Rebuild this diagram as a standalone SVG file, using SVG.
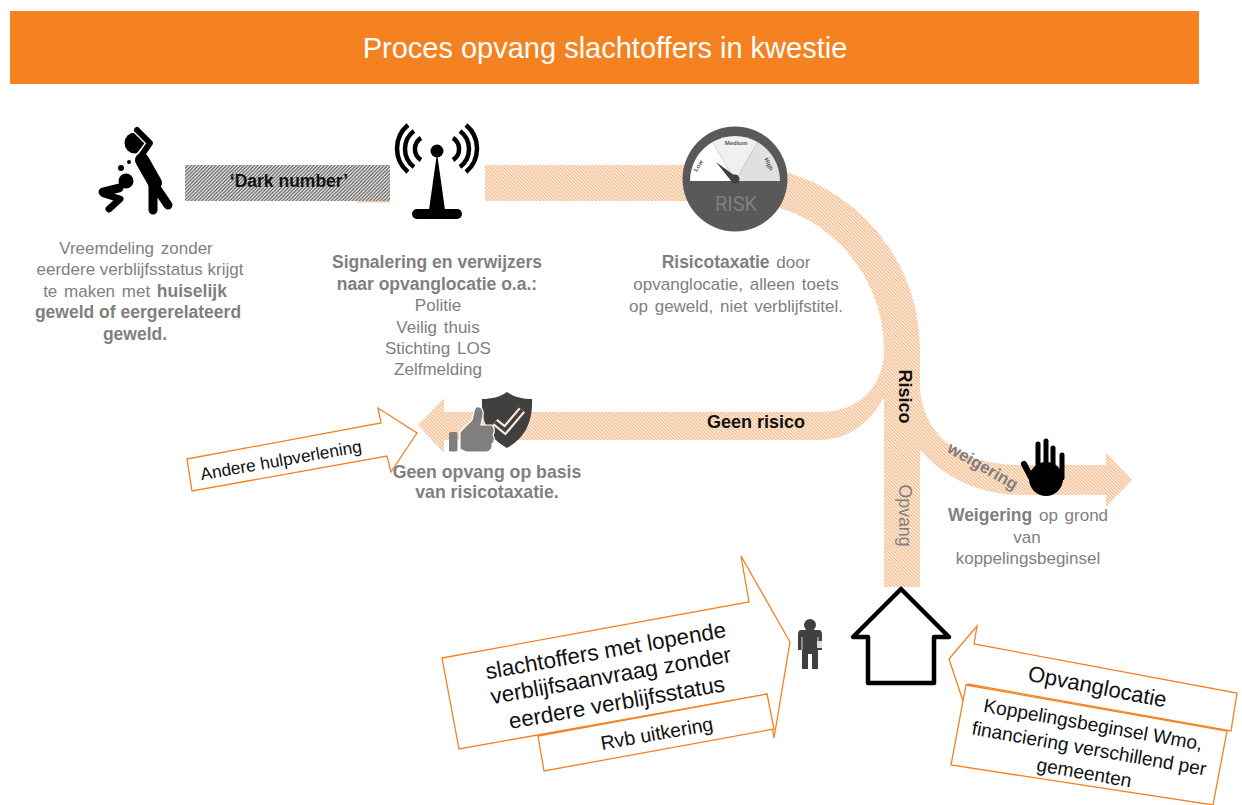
<svg xmlns="http://www.w3.org/2000/svg" width="1242" height="805" viewBox="0 0 1242 805">
<style>
text{font-family:"Liberation Sans",Arial,sans-serif}
.g{fill:#7f7f7f;font-size:17px;text-anchor:middle;word-spacing:2px}
.b{font-weight:bold;font-size:17.5px;word-spacing:0}
.k{fill:#111;text-anchor:middle}
.call{fill:#fff;stroke:#F58220;stroke-width:1.3;stroke-linejoin:miter}
.hatch{fill:url(#ho)}
</style>
<defs>
<pattern id="ho" width="3.5" height="3.5" patternUnits="userSpaceOnUse">
<rect width="3.5" height="3.5" fill="#fff"/>
<path d="M-1,-1L4.5,4.5M-1,2.5L1,4.5M2.5,-1L4.5,1" stroke="#F9AE74" stroke-width="1.25"/>
</pattern>
<pattern id="hd" width="3.5" height="3.5" patternUnits="userSpaceOnUse">
<rect width="3.5" height="3.5" fill="#fff"/>
<path d="M-1,4.5L4.5,-1M-1,1L1,-1M2.5,4.5L4.5,2.5" stroke="#555" stroke-width="1.3"/>
</pattern>
</defs>
<rect width="1242" height="805" fill="#fff"/>
<g id="title">
<rect x="10" y="11" width="1189" height="73" fill="#F58220"/>
<text x="605" y="58" font-size="29" fill="#fff" text-anchor="middle">Proces opvang slachtoffers in kwestie</text>
</g>
<g id="connectors">
<rect x="185" y="165" width="205" height="36" fill="url(#hd)"/>
<rect x="357" y="201" width="33" height="1.5" fill="#F9C9A0"/>
<path class="hatch" d="M485,165L735,165A185,185 0 0 1 920,350L920,587L884,587L884,350A149,149 0 0 0 735,201L485,201Z"/>
<path class="hatch" d="M884,350C884,385 860,412 820,412L444,412L444,398L418,425L444,453L444,440L820,440C850,440 872,420 884,397Z"/>
<path class="hatch" d="M920,390C925,440 965,465 1020,465L1106,465L1106,452L1132,480L1106,507L1106,495L1020,495C985,495 945,480 920,450Z"/>
</g>
<g id="node-victim" fill="#000" stroke="#000">
<circle cx="135" cy="143" r="10.5" stroke="none"/>
<path d="M137,130L150,143L140,156" fill="none" stroke="#fff" stroke-width="8.5" stroke-linecap="round" stroke-linejoin="round"/>
<path d="M137,130L150,143L141,156" fill="none" stroke-width="6" stroke-linecap="round" stroke-linejoin="round"/>
<path d="M142,160L155,183" fill="none" stroke-width="14" stroke-linecap="round"/>
<path d="M153,183L153,210M155,186L168,205" fill="none" stroke-width="9" stroke-linecap="round"/>
<circle cx="126" cy="181" r="7.5" stroke="none"/>
<path d="M103,192L119,188" fill="none" stroke-width="9" stroke-linecap="round"/>
<path d="M104,194L120,199L109,209" fill="none" stroke-width="7" stroke-linecap="round" stroke-linejoin="round"/>
<circle cx="121" cy="168" r="3" stroke="none"/>
<circle cx="129" cy="162" r="2" stroke="none"/>
</g>
<g id="node-signal">
<circle cx="437" cy="151" r="6.5"/>
<path d="M437,153L429,210L445,210Z"/>
<rect x="412" y="209" width="50" height="10" rx="5"/>
<path d="M408,125A30.6,30.6 0 0 0 408,172M414,131A22.5,22.5 0 0 0 414,167M421,138A13,13 0 0 0 421,160M466,125A30.6,30.6 0 0 1 466,172M460,131A22.5,22.5 0 0 1 460,167M453,138A13,13 0 0 1 453,160" fill="none" stroke="#000" stroke-width="4.5"/>
</g>
<g id="node-gauge">
<circle cx="735" cy="179" r="52.5" fill="#595959"/>
<path d="M690,181A45,45 0 0 1 712.5,142L735,181Z" fill="#fff"/>
<path d="M712.5,142A45,45 0 0 1 757.5,142L735,181Z" fill="#f0f0f0"/>
<path d="M757.5,142A45,45 0 0 1 780,181L735,181Z" fill="#e0e0e0"/>
<path d="M716,162L738,178L732,182Z" fill="#404040"/>
<circle cx="735" cy="179" r="4.5" fill="#404040"/>
<text x="736" y="211" font-size="20" fill="#7f7f7f" text-anchor="middle" style="font-family:Roboto,sans-serif">RISK</text>
<text x="736" y="145" font-size="6" fill="#595959" font-weight="bold" text-anchor="middle">Medium</text>
<text transform="translate(700,167) rotate(-58)" font-size="6" fill="#595959" font-weight="bold" text-anchor="middle">Low</text>
<text transform="translate(767,165) rotate(65)" font-size="6" fill="#595959" font-weight="bold" text-anchor="middle">High</text>
</g>
<g id="node-thumb-shield">
<path d="M507,392C514,397 523,399 532,399C533,420 526,438 507,448C488,438 481,420 482,399C491,399 500,397 507,392Z" fill="#404040"/>
<path d="M495,422L505,430L522,410" fill="none" stroke="#fbe8d8" stroke-width="8"/>
<path d="M495,422L505,430L522,410" fill="none" stroke="#404040" stroke-width="3.5"/>
<rect x="449" y="432" width="8.5" height="19.5" rx="1.5" fill="#7f7f7f"/>
<path d="M460,432L472,420C474,414 473,410 476,407C481,405 484,410 483,416L481,425L491,425C495,426 495,432 493,435C495,438 495,442 492,444C493,448 490,452 486,452L466,452L460,449Z" fill="#7f7f7f" stroke="#fff" stroke-width="1.2"/>
</g>
<g id="node-hand" fill="none" stroke="#000" stroke-linecap="round">
<circle cx="1046" cy="479" r="17" fill="#000" stroke="none"/>
<path d="M1038,444L1038,475M1046,441L1046,475M1053,448L1053,475M1062,455L1062,478" stroke-width="5"/>
<path d="M1024,464L1035,485" stroke-width="6"/>
</g>
<g id="node-person" fill="#404040">
<circle cx="810" cy="625" r="6"/>
<path d="M801,630L819,630C821,630 822,632 822,634L822,650L818,650L818,669L812,669L812,654L808,654L808,669L802,669L802,650L798,650L798,634C798,632 799,630 801,630Z"/>
<path d="M802,637V650M818,637V641" stroke="#fff" stroke-width="0.8"/>
<rect x="817" y="641" width="5" height="7" fill="#ddd"/>
</g>
<g id="node-house">
<path d="M901,589L853,637L868,637L868,683L934,683L934,637L949,637Z" fill="#fff" stroke="#000" stroke-width="4.5" stroke-linejoin="round"/>
</g>
<g id="node-text-victim">
<text class="g" x="136" y="254">Vreemdeling zonder</text>
<text class="g" x="140" y="275" style="word-spacing:0">eerdere verblijfsstatus krijgt</text>
<text class="g" x="135" y="297">te maken met <tspan class="b">huiselijk</tspan></text>
<text class="g b" x="138" y="318">geweld of eergerelateerd</text>
<text class="g b" x="135" y="340">geweld.</text>
</g>
<g id="node-text-signal">
<text class="g b" x="437" y="268">Signalering en verwijzers</text>
<text class="g b" x="437" y="290">naar opvanglocatie o.a.:</text>
<text class="g" x="438" y="311">Politie</text>
<text class="g" x="438" y="333">Veilig thuis</text>
<text class="g" x="438" y="354">Stichting LOS</text>
<text class="g" x="438" y="375">Zelfmelding</text>
</g>
<g id="node-text-risk">
<text class="g" x="736" y="268"><tspan class="b">Risicotaxatie</tspan> door</text>
<text class="g" x="736" y="290">opvanglocatie, alleen toets</text>
<text class="g" x="736" y="312">op geweld, niet verblijfstitel.</text>
</g>
<g id="node-text-noshelter">
<text class="g b" x="487" y="478" style="font-size:17.7px">Geen opvang op basis</text>
<text class="g b" x="487" y="498" style="font-size:17.7px">van risicotaxatie.</text>
</g>
<g id="node-text-refusal">
<text class="g" x="1028" y="521"><tspan class="b">Weigering</tspan> op grond</text>
<text class="g" x="1027" y="543">van</text>
<text class="g" x="1028" y="564">koppelingsbeginsel</text>
</g>
<g id="connector-labels">
<text x="289" y="187" font-size="17.5" font-weight="bold" class="k">‘Dark number’</text>
<text x="756" y="428" font-size="18" font-weight="bold" class="k">Geen risico</text>
<text transform="translate(899,396.5) rotate(90)" font-size="18" font-weight="bold" class="k">Risico</text>
<text transform="translate(899,515.5) rotate(90)" style="font-size:17.7px" class="g">Opvang</text>
<text transform="translate(980,471) rotate(30)" style="font-size:16.8px" class="g b">weigering</text>
</g>
<g id="node-callout-help">
<path class="call" d="M187,459L381,423L378,408L417,433L391,472L387,456L192,491Z"/>
<text transform="translate(282,466) rotate(-10)" font-size="17.3" class="k">Andere hulpverlening</text>
</g>
<g id="node-callout-victims">
<path class="call" d="M442,658L749,602L741,556L790,642L774,738L767,694L459,749Z"/>
<text transform="translate(607,658) rotate(-10)" font-size="22.4" class="k">slachtoffers met lopende</text>
<text transform="translate(612,683) rotate(-10)" font-size="22.4" class="k">verblijfsaanvraag zonder</text>
<text transform="translate(618,710) rotate(-10)" font-size="22.4" class="k">eerdere verblijfsstatus</text>
</g>
<g id="node-rvb">
<path class="call" d="M538,736L767,694L774,729L544,771Z"/>
<text transform="translate(658,740) rotate(-10)" font-size="19.5" class="k">Rvb uitkering</text>
</g>
<g id="node-callout-location">
<path class="call" d="M949,659L977,626L974,644L1237,693L1231,731L968,684L963,701Z"/>
<text transform="translate(1096,694) rotate(11)" font-size="22" class="k">Opvanglocatie</text>
</g>
<g id="node-coupling">
<path class="call" d="M966,685L1227,731L1213,805L951,765Z"/>
<text transform="translate(1092,731) rotate(10)" font-size="19.2" class="k">Koppelingsbeginsel Wmo,</text>
<text transform="translate(1088,755) rotate(10)" font-size="19.2" class="k">financiering verschillend per</text>
<text transform="translate(1083,779) rotate(10)" font-size="19.2" class="k">gemeenten</text>
</g>
</svg>
